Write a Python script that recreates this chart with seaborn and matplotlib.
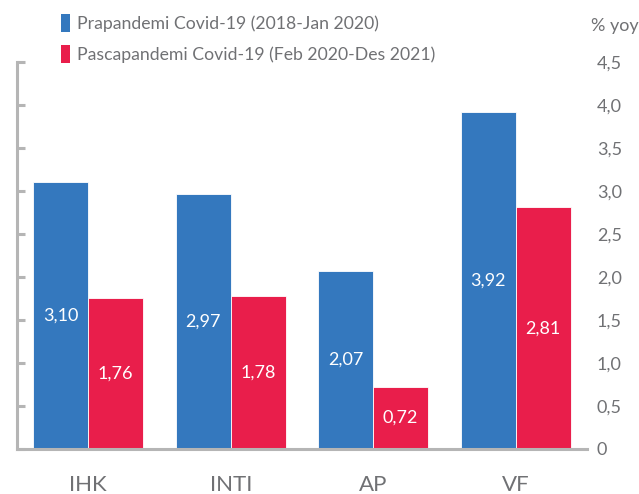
import matplotlib
matplotlib.use("Agg")
import matplotlib.pyplot as plt
from matplotlib.patches import Patch
from matplotlib.ticker import FuncFormatter, FixedLocator
import seaborn as sns
import pandas as pd

categories = ["IHK", "INTI", "AP", "VF"]
series_names = ["Prapandemi Covid-19 (2018-Jan 2020)", "Pascapandemi Covid-19 (Feb 2020-Des 2021)"]
pre_values = [3.10, 2.97, 2.07, 3.92]
post_values = [1.76, 1.78, 0.72, 2.81]
colors = ["#3478be", "#e91e4b"]
y_ticks = [0, 0.5, 1.0, 1.5, 2.0, 2.5, 3.0, 3.5, 4.0, 4.5]

df = pd.DataFrame({
    "cat": categories * 2,
    "series": [series_names[0]] * 4 + [series_names[1]] * 4,
    "value": pre_values + post_values,
})

sns.set_theme(style="white")
plt.rcParams["font.family"] = ["Lato", "DejaVu Sans"]
gray = "#707174"
spine_gray = "#b5b5b5"

fig = plt.figure(figsize=(6.39, 4.94), dpi=100)
ax = fig.add_axes([0.0266, 0.0911, 0.892, 0.7834])

sns.barplot(data=df, x="cat", y="value", hue="series", palette=colors,
            width=0.77, ax=ax, legend=False, edgecolor="white", linewidth=0.6,
            saturation=1)

ax.set_ylim(0, 4.5)
ax.set_xlim(-0.5, 3.5)
ax.set_xlabel("")
ax.set_ylabel("")

for c in ax.containers:
    labels = [f"{v:.2f}".replace(".", ",") for v in c.datavalues]
    ax.bar_label(c, labels=labels, label_type="center", color="white", fontsize=13)

for s in ["top", "right"]:
    ax.spines[s].set_visible(False)
for s in ["left", "bottom"]:
    ax.spines[s].set_color(spine_gray)
    ax.spines[s].set_linewidth(2.2)

ax.yaxis.set_major_locator(FixedLocator(y_ticks))
ax.yaxis.set_major_formatter(FuncFormatter(lambda v, p: "0" if v == 0 else f"{v:.1f}".replace(".", ",")))
ax.tick_params(axis="y", left=True, right=False, labelleft=False, labelright=True,
               direction="in", length=6, width=2.2, color=spine_gray,
               labelcolor=gray, labelsize=13, pad=7)
for lbl in ax.get_yticklabels():
    lbl.set_horizontalalignment("left")

ax.xaxis.set_major_locator(FixedLocator([0.5, 1.5, 2.5, 3.5]))
ax.xaxis.set_major_formatter(FuncFormatter(lambda v, p: ""))
ax.set_xticks([0, 1, 2, 3], minor=True)
ax.set_xticklabels(categories, minor=True)
ax.tick_params(axis="x", which="major", direction="in", length=6, width=2.2, color=spine_gray)
ax.tick_params(axis="x", which="minor", length=0, labelsize=16, labelcolor=gray, pad=19)

fig.text(0.925, 0.948, "% yoy", color=gray, fontsize=13, ha="left", va="center")

handles = [Patch(facecolor=colors[0], edgecolor="none"), Patch(facecolor=colors[1], edgecolor="none")]
leg = fig.legend(handles, series_names, loc="upper left", bbox_to_anchor=(0.084, 0.985),
                 frameon=False, fontsize=12.7, handlelength=0.55, handleheight=1.15,
                 handletextpad=0.35, labelspacing=0.75, borderaxespad=0)
for t in leg.get_texts():
    t.set_color(gray)

fig.savefig("out.png", dpi=100)
